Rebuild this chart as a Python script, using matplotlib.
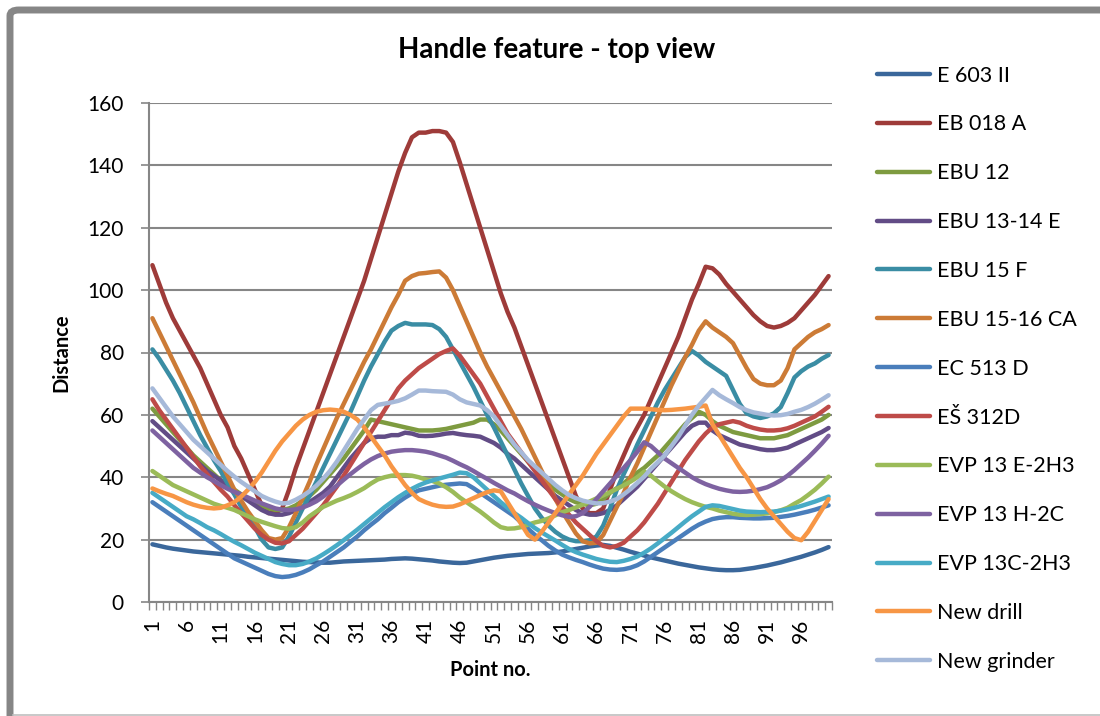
import numpy as np
import matplotlib
matplotlib.use("Agg")
import matplotlib.pyplot as plt
from matplotlib.patches import FancyBboxPatch
from matplotlib.lines import Line2D

plt.rcParams['font.family'] = ['Lato', 'DejaVu Sans']

points = list(range(1, 101))

names = ["E 603 II", "EB 018 A", "EBU 12", "EBU 13-14 E", "EBU 15 F", "EBU 15-16 CA",
         "EC 513 D", "EŠ 312D", "EVP 13 E-2H3", "EVP 13 H-2C", "EVP 13C-2H3",
         "New drill", "New grinder"]

colors = ["#3A679B", "#9E3B39", "#7E9B40", "#624C86", "#3A8DA4", "#CC7B36",
          "#4A7EBB", "#BE4B48", "#9BBB58", "#7E62A1", "#47ABC6", "#F79645", "#A6B9D9"]

e603 = [18.5, 18.0, 17.5, 17.1, 16.8, 16.5, 16.2, 16.0, 15.8, 15.6,
        15.4, 15.2, 15.0, 14.8, 14.5, 14.3, 14.1, 13.9, 13.7, 13.5,
        13.3, 13.1, 12.9, 12.8, 12.7, 12.6, 12.6, 12.8, 13.0, 13.1,
        13.2, 13.3, 13.4, 13.5, 13.6, 13.8, 13.9, 14.0, 13.9, 13.7,
        13.5, 13.3, 13.0, 12.8, 12.6, 12.5, 12.6, 13.0, 13.4, 13.8,
        14.2, 14.5, 14.8, 15.0, 15.2, 15.4, 15.5, 15.6, 15.7, 15.9,
        16.2, 16.6, 17.0, 17.4, 17.8, 18.1, 18.3, 18.0, 17.4, 16.8,
        16.1, 15.5, 14.9, 14.3, 13.8, 13.3, 12.8, 12.3, 11.9, 11.5,
        11.1, 10.8, 10.5, 10.3, 10.2, 10.2, 10.3, 10.6, 10.9, 11.3,
        11.7, 12.2, 12.7, 13.3, 13.9, 14.5, 15.2, 15.9, 16.7, 17.6]

eb018 = [108, 102, 96, 91, 87, 83, 79, 75, 70, 65,
         60, 56, 50, 46, 41, 36, 31, 28.5, 28.5, 30,
         36, 43, 49, 55, 61, 67, 73, 79, 85, 91,
         97, 103, 110, 117, 124, 131, 138, 144, 149, 150.5,
         150.5, 151, 151, 150.5, 147.5, 141, 134, 127, 120, 113,
         106, 99, 93, 88, 82, 76, 70, 64, 58, 52,
         46, 40, 34, 30, 28.5, 28.5, 30, 36, 42, 47,
         52, 56, 60, 65, 70, 75, 80, 85, 91, 97,
         102, 107.5, 107, 105, 102, 99.5, 97, 94.5, 92, 90,
         88.5, 88, 88.5, 89.5, 91, 93.5, 96, 98.5, 101.5, 104.5]

ebu12 = [62, 59.5, 57, 54.5, 52, 49.5, 47, 45, 43, 41,
         39, 37.5, 36, 34.5, 33, 32, 31, 30, 29.5, 29.5,
         30, 31, 32.5, 34, 36, 38.5, 41, 43.5, 46, 49,
         52, 55, 58.5, 58, 57.5, 57, 56.5, 56, 55.5, 55,
         55, 55, 55.2, 55.5, 56, 56.5, 57, 57.5, 58.5, 58.5,
         57, 55, 52.5, 50, 47.5, 45, 42.5, 40, 38, 36,
         34.5, 33, 32, 31.5, 31, 31.5, 33, 35, 36.5, 38,
         40, 41.5, 43, 45, 47, 49.5, 52, 54.5, 57, 59,
         61, 60, 58, 56.5, 55.5, 54.5, 54, 53.5, 53, 52.5,
         52.5, 52.5, 53, 53.5, 54.5, 55.5, 56.5, 57.5, 58.5, 60]

ebu1314 = [58, 56, 54, 52, 50, 48, 46, 44, 42, 40.5,
           39, 37, 35.5, 34, 32.5, 31, 29.5, 28.5, 28, 28,
           28.5, 29.5, 30.5, 32, 33.5, 35, 37, 40, 43, 46,
           48.5, 51, 52.5, 53, 53, 53.5, 53.5, 54.3, 54, 53.3,
           53.2, 53.3, 53.6, 54, 54.2, 53.8, 53.5, 53.3, 53, 52,
           51, 49.5, 47.5, 46, 44, 42, 40, 38, 36, 34,
           32.5, 31, 29.5, 28.5, 28, 28, 28.5, 29.5, 31, 33,
           35, 37, 39.5, 42, 44.5, 47, 49.5, 52, 54.5, 56.5,
           57.5, 57.5, 55, 53.5, 52.5, 51.5, 50.5, 50, 49.5, 49,
           48.7, 48.7, 49, 49.5, 50.5, 51.5, 52.5, 53.5, 54.5, 55.8]

ebu15f = [81, 78, 74.5, 71, 67, 62.5, 58, 53.5, 49.5, 45.5,
          42, 38, 34.5, 30.5, 27.5, 24, 20, 17.5, 17, 17.5,
          21, 25.5, 30, 34, 38.5, 43, 47.5, 52, 56.5, 61,
          66, 71, 75.5, 79.5, 83.5, 87, 88.5, 89.5, 89, 89,
          89, 88.8, 87.5, 85, 81, 77, 73, 69, 64.5, 60,
          56, 51.5, 47, 42.5, 38, 34, 30, 27, 24.5, 22.5,
          21, 20, 19.5, 19.5, 19.8, 21, 24.5, 30, 36, 41,
          45.5, 50.5, 55, 59.5, 64, 68, 71.5, 75, 78.5, 80.5,
          79, 77, 75.5, 74, 72.5, 68, 63.5, 60.5, 59.5, 59,
          59.5, 60.5, 62.5, 67, 72, 74, 75.5, 76.5, 78, 79.2]

ebu1516 = [91, 86.5, 82, 77.5, 73, 68.5, 64, 59, 54, 49.5,
           45, 40.5, 36, 32.5, 29, 26, 23, 20.5, 20, 20.5,
           24, 28.5, 33.5, 38.5, 44, 49, 54, 59, 63.5, 68,
           72.5, 77, 81, 85.5, 90, 94.5, 98.5, 103, 104.5, 105.3,
           105.5, 105.8, 106, 104, 100, 95, 90, 85, 80, 75.5,
           71.5, 67.5, 63.5, 59.5, 55.5, 51, 46.5, 42, 37.5, 33,
           29, 25.5, 22, 19.5, 18.8, 19, 21.5, 26, 30.5, 35,
           40, 44.5, 49.5, 54.5, 59.5, 64.5, 69.5, 74, 78.5, 82.5,
           87, 90, 88, 86.5, 85, 83, 79, 75, 71.5, 70,
           69.5, 69.5, 71, 75, 81, 83, 85, 86.5, 87.5, 88.8]

ec513 = [32, 30.5, 29, 27.5, 26, 24.5, 23, 21.5, 20, 18.5,
         17, 15.5, 14, 13, 12, 11, 10, 9, 8.3, 8,
         8.2, 8.7, 9.5, 10.5, 11.8, 13, 14.5, 16, 17.5, 19.3,
         21, 23, 24.8, 26.5, 28.5, 30.2, 32, 33.5, 34.8, 35.8,
         36.3, 36.8, 37.3, 37.6, 37.8, 38, 37.8, 36.5, 35, 33.5,
         32, 30.5, 29, 27.5, 25.5, 23.5, 21.5, 19.8, 18, 16.5,
         15.2, 14.3, 13.5, 12.8, 12, 11.3, 10.7, 10.4, 10.3, 10.5,
         11, 11.8, 13, 14.5, 16, 17.5, 19, 20.5, 22, 23.5,
         24.8, 25.8, 26.6, 27, 27.2, 27.2, 27, 26.9, 26.8, 26.8,
         26.9, 27, 27.3, 27.6, 28, 28.5, 29, 29.6, 30.3, 31]

es312 = [65, 61.5, 58.5, 55.5, 52.5, 49.5, 46.5, 43.5, 41, 38.5,
         36, 33.8, 31, 28.5, 26, 23.5, 21.5, 20, 19, 18.8,
         19.5, 21.5, 23.5, 26, 28.5, 31, 34, 37, 40.5, 44,
         47.5, 51, 54.5, 58, 61.5, 65, 68.5, 71, 73, 75,
         76.5, 78, 79.5, 80.5, 81.3, 79, 76, 73, 70, 66,
         62, 58, 54, 51, 48, 45, 42, 39, 36, 33,
         30.5, 28, 25.5, 23.5, 21.5, 19.5, 18, 17.5, 18, 19,
         21, 23, 25.5, 28.5, 31.5, 35, 38.5, 42, 45.5, 48.5,
         51.5, 54, 56, 57, 57.5, 58, 57.5, 56.5, 55.8, 55.3,
         55, 55, 55.2, 55.7, 56.5, 57.5, 58.5, 59.5, 61, 62.6]

evp13e = [42, 40.5, 39, 37.5, 36.5, 35.5, 34.5, 33.5, 32.5, 31.5,
          30.8, 30.2, 29.5, 28.5, 27.5, 26.5, 25.7, 25, 24.3, 23.7,
          23.5, 24, 25.5, 27.5, 29, 30.5, 31.5, 32.5, 33.3, 34.2,
          35.3, 36.5, 38, 39.3, 40, 40.5, 40.7, 40.7, 40.5, 40,
          39.3, 38.8, 38, 36.8, 35.3, 33.5, 32, 30.5, 29, 27.3,
          25.5, 24, 23.5, 23.6, 24, 24.8, 25.5, 26, 26.8, 27.8,
          28.8, 29.5, 30.3, 31.2, 32.2, 33.2, 34.2, 35.2, 36.3, 37.4,
          38.6, 40, 41.8, 40.5, 38.7, 37, 35.5, 34.2, 33, 32,
          31.2, 30.5, 30, 29.3, 28.8, 28.3, 28, 27.9, 28, 28.2,
          28.4, 28.8, 29.4, 30.2, 31.5, 32.7, 34.3, 36, 38, 40.2]

evp13h = [55, 53, 51, 49, 47, 45, 43, 41.5, 40, 38.8,
          37.5, 36.3, 35.3, 34.5, 33.5, 32.5, 31.6, 30.8, 30, 29.6,
          29.5, 29.7, 30.3, 31.2, 32.3, 33.8, 35.5, 37.3, 39.2, 41,
          42.7, 44.3, 45.7, 46.8, 47.6, 48.2, 48.5, 48.7, 48.7, 48.5,
          48.2, 47.7, 47, 46.3, 45.3, 44.2, 43.2, 42, 40.7, 39.5,
          38.2, 37, 35.8, 34.8, 33.5, 32.3, 31.2, 30.2, 29.3, 28.5,
          27.8, 27.3, 27.5, 28.5, 30.5, 33, 35.5, 38, 40.5, 43,
          45.5, 48.2, 51.2, 50, 48, 46, 44.5, 43, 41.5, 40,
          38.8, 37.8, 37, 36.3, 35.8, 35.4, 35.3, 35.4, 35.7, 36.2,
          36.8, 37.8, 39, 40.5, 42.3, 44.3, 46.3, 48.5, 50.8, 53.3]

evp13c = [35, 33.5, 32, 30.5, 29, 27.5, 26.5, 25.3, 24, 23,
          21.8, 20.5, 19.3, 18.2, 17, 15.8, 14.8, 13.8, 12.8, 12.2,
          11.8, 11.8, 12.2, 13, 14, 15.3, 16.7, 18.2, 19.8, 21.5,
          23.2, 25, 26.8, 28.6, 30.4, 32, 33.6, 35, 36.3, 37.4,
          38.3, 39, 39.6, 40.2, 40.8, 41.5, 41.3, 40, 38, 36,
          34, 32, 30.2, 28.5, 27, 25.3, 23.7, 22.3, 21, 19.7,
          18.3, 17, 16, 15.2, 14.5, 13.8, 13.3, 12.9, 12.8, 13.2,
          13.8, 14.6, 15.8, 17.2, 18.8, 20.5, 22.2, 24, 25.8, 27.5,
          29, 30.5, 31, 30.8, 30.3, 29.8, 29.3, 29, 28.9, 28.8,
          28.9, 29, 29.3, 29.7, 30.2, 30.8, 31.5, 32.2, 33, 33.8]

new_drill = [36.4, 35.5, 34.7, 34, 33, 32, 31.2, 30.6, 30.2, 30,
             30.2, 31, 32, 33.8, 36, 38.5, 41.5, 45, 48.5, 51.5,
             54, 56.5, 58.5, 60, 61, 61.5, 61.7, 61.5, 61, 60,
             58.5, 56, 53, 50, 47, 43.5, 40.5, 37.5, 35, 33,
             32, 31.2, 30.7, 30.5, 30.6, 31.3, 32.3, 33.3, 34.3, 35.2,
             35.8, 35.5, 32, 28.5, 25, 21.5, 20, 22.5, 25.5, 28.5,
             31.5, 34.5, 37.5, 40.5, 44, 47.5, 50.5, 53.5, 56.5, 59.5,
             62, 62, 62, 61.8, 61.6, 61.5, 61.6, 61.8, 62, 62.3,
             62.6, 63, 57, 53.5, 50, 46.5, 43, 40, 36.5, 33,
             30, 27.5, 25, 22.5, 20.5, 19.8, 22.5, 26, 29.5, 33]

new_grinder = [68.5, 65.5, 62.5, 59.5, 57, 54.5, 52, 50, 48, 46,
               44, 42, 40.2, 38.5, 37, 35.5, 34, 33, 32.2, 31.6,
               31.8, 32.8, 34, 35.5, 37.3, 39.5, 42, 45, 48.5, 52,
               55.5, 58.5, 61.5, 63.2, 63.6, 64, 64.5, 65.3, 66.5, 67.8,
               67.8, 67.6, 67.5, 67.4, 66.5, 65, 64, 63.5, 63, 61.5,
               59.5, 56.5, 53.5, 50.5, 48, 45.5, 43.5, 41.5, 39.5, 37.5,
               35.8, 34.3, 33.3, 32.5, 32, 31.6, 31.7, 32.2, 33, 34.5,
               36.2, 38.2, 40.2, 42.7, 44.8, 47, 50, 53, 56.5, 60,
               63, 65.5, 68, 66.3, 65, 63.8, 62.5, 61.5, 60.8, 60.4,
               60, 59.8, 59.9, 60.3, 61, 61.6, 62.5, 63.6, 64.9, 66.3]

series = [e603, eb018, ebu12, ebu1314, ebu15f, ebu1516, ec513, es312,
          evp13e, evp13h, evp13c, new_drill, new_grinder]

W, H = 1100, 716
fig = plt.figure(figsize=(W / 100, H / 100), dpi=100)

# chart frame (thick on top/left like the Excel export)
frame = FancyBboxPatch((10 / W, -0.2), 1.3, 1.2 - 10 / H,
                       boxstyle="round,pad=0,rounding_size=0.008",
                       transform=fig.transFigure, facecolor="none",
                       edgecolor="#868686", linewidth=5, zorder=-1)
fig.patches.append(frame)
fig.lines.append(Line2D([13 / W, 1], [1.5 / H, 1.5 / H], transform=fig.transFigure,
                        color="#BFBFBF", lw=1.2))

ax = fig.add_axes([149 / W, 1 - 602 / H, (832 - 149) / W, (602 - 103) / H])
ax.set_facecolor("none")

for vals, name, c in zip(series, names, colors):
    ax.plot(points, vals, color=c, lw=3.2, label=name, solid_capstyle="round",
            solid_joinstyle="round")

ax.set_xlim(0.5, 100.5)
ax.set_ylim(0, 160)
ax.set_yticks(range(0, 161, 20))
ax.set_xticks(range(1, 101, 5))
ax.set_xticks(np.arange(0.5, 101, 1), minor=True)
ax.tick_params(axis="x", which="major", length=0, labelsize=15, rotation=90, pad=12)
ax.tick_params(axis="x", which="minor", length=6, width=1, color="#868686")
ax.tick_params(axis="y", which="major", length=6, width=1.2, color="#868686",
               labelsize=15, pad=12)
ax.grid(axis="y", color="#868686", lw=1.5)
ax.set_axisbelow(True)
for s in ["top", "right"]:
    ax.spines[s].set_visible(False)
for s in ["left", "bottom"]:
    ax.spines[s].set_color("#868686")
    ax.spines[s].set_linewidth(1.5)

ax.set_xlabel("Point no.", fontsize=14.5, fontweight="bold", labelpad=12)
ax.set_ylabel("Distance", fontsize=14.5, fontweight="bold", labelpad=12)
fig.text(557 / W, 1 - 50 / H, "Handle feature - top view", ha="center", va="center",
         fontsize=20, fontweight="bold")

ax.legend(loc="upper left", bbox_to_anchor=(868 / W, 1 - 57 / H),
          bbox_transform=fig.transFigure, frameon=False, fontsize=15.5,
          handlelength=2.5, handletextpad=0.3, labelspacing=1.34,
          borderaxespad=0)

fig.savefig("out.png", dpi=100)
